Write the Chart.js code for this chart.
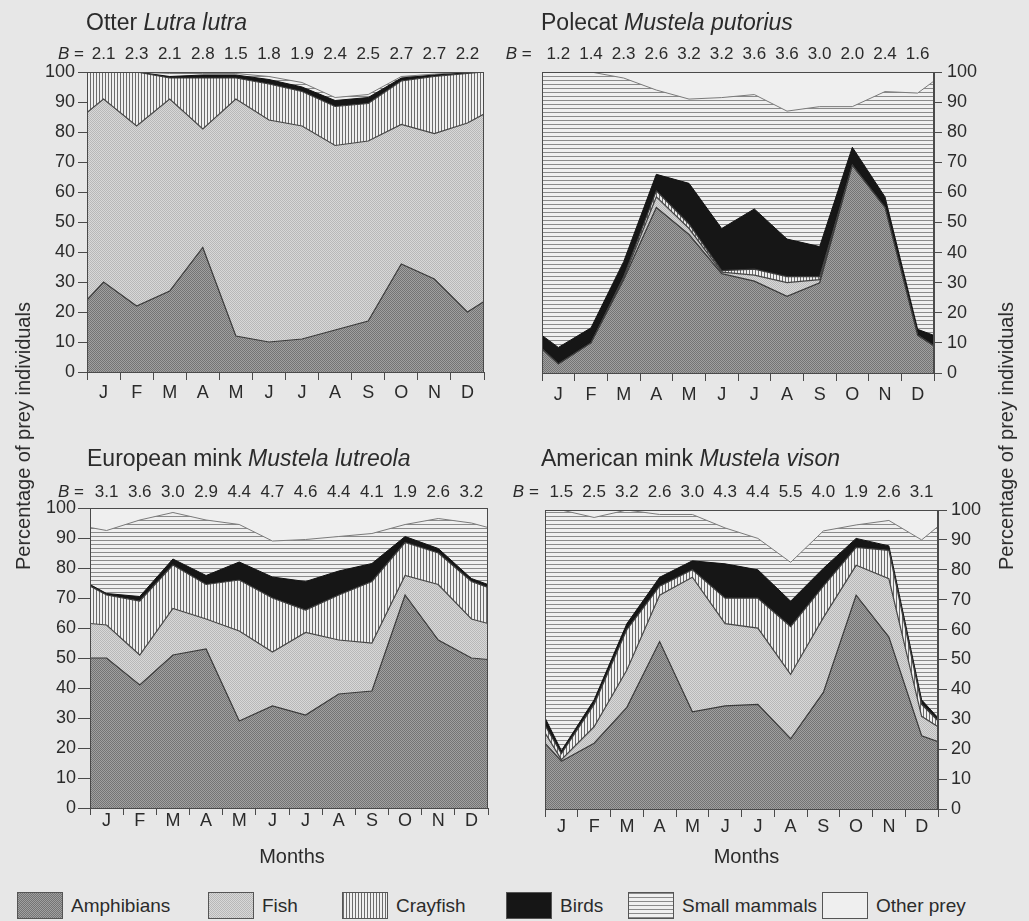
<!DOCTYPE html>
<html>
<head>
<meta charset="utf-8">
<script src="https://cdn.jsdelivr.net/npm/chart.js@4.4.1/dist/chart.umd.min.js"></script>
<style>
  html, body { margin: 0; padding: 0; }
  body {
    width: 1029px; height: 921px; position: relative; overflow: hidden;
    background: #e7e7e7; color: #2b2b2b;
    font-family: 'Liberation Sans', Arial, sans-serif;
  }
  canvas.panel { position: absolute; display: block; }
  .ytitle {
    position: absolute; font-size: 20px; line-height: 20px; white-space: nowrap;
    transform: translate(-50%, -50%) rotate(-90deg);
  }
  .leg { position: absolute; top: 893px; height: 25px; display: flex; align-items: center; }
  .leg canvas { display: block; border: 1px solid #555; box-sizing: border-box; }
  .leg span { font-size: 19px; margin-left: 8px; }
</style>
</head>
<body>
<canvas id="otter" class="panel" width="500" height="420" style="left:0;top:0"></canvas>
<canvas id="polecat" class="panel" width="529" height="420" style="left:500px;top:0"></canvas>
<canvas id="euMink" class="panel" width="500" height="460" style="left:0;top:420px"></canvas>
<canvas id="amMink" class="panel" width="529" height="460" style="left:500px;top:420px"></canvas>
<div class="ytitle" style="left:23px;top:436px">Percentage of prey individuals</div>
<div class="ytitle" style="left:1006px;top:436px">Percentage of prey individuals</div>
<div id="legend"></div>

<script>
// ---- data -------------------------------------------------------------
const months = ['J', 'F', 'M', 'A', 'M', 'J', 'J', 'A', 'S', 'O', 'N', 'D'];
const preyTypes = ['Amphibians', 'Fish', 'Crayfish', 'Birds', 'Small mammals', 'Other prey'];

// x of each point, in months: start of year, the twelve mid-months, end of year
const xPos = [0, 0.5, 1.5, 2.5, 3.5, 4.5, 5.5, 6.5, 7.5, 8.5, 9.5, 10.5, 11.5, 12];

// percentages of prey individuals (year start, Jan..Dec, year end)
const otterAmphibians   = [24, 30, 22, 27, 41.5, 12, 10, 11, 14, 17, 36, 31, 20, 23.5];
const otterFish         = [62.5, 61, 60, 64, 39.5, 79, 74, 71, 61.5, 60, 46.5, 48.5, 63, 62.5];
const otterCrayfish     = [13.5, 9, 18, 7, 17, 7, 12, 11.5, 13, 12.5, 14.5, 19, 16.5, 14];
const otterBirds        = [0, 0, 0, 0.5, 1, 1, 1.5, 1.5, 2, 2, 1, 0.5, 0.2, 0];
const otterSmallMammals = [0, 0, 0, 1, 0.5, 0.5, 1, 1.5, 1, 1, 0.5, 0.3, 0.3, 0];
const otterOther        = [0, 0, 0, 0.5, 0.5, 0.5, 1.5, 3.5, 8.5, 7.5, 1.5, 0.7, 0, 0];
const otterB = [2.1, 2.3, 2.1, 2.8, 1.5, 1.8, 1.9, 2.4, 2.5, 2.7, 2.7, 2.2];

const polecatAmphibians   = [8, 3, 10, 31, 55, 46, 33, 30.5, 25.5, 30, 69, 55, 12.5, 9];
const polecatFish         = [0, 0, 0, 0.5, 3.5, 2, 0.5, 2, 4.5, 1, 0, 0, 0, 0];
const polecatCrayfish     = [0, 0, 0, 0.5, 2, 1.5, 0.5, 2, 2, 1, 0, 0, 0, 0];
const polecatBirds        = [4.5, 5.5, 5, 5, 5.5, 13.5, 14, 20, 12.5, 10, 6, 3.5, 2, 3.5];
const polecatSmallMammals = [87.5, 91.5, 85, 61, 28, 28, 43.5, 38, 42.5, 46.5, 13.5, 35, 78.5, 84.5];
const polecatOther        = [0, 0, 0, 2, 6, 9, 8.5, 7.5, 13, 11.5, 11.5, 6.5, 7, 3];
const polecatB = [1.2, 1.4, 2.3, 2.6, 3.2, 3.2, 3.6, 3.6, 3.0, 2.0, 2.4, 1.6];

const euMinkAmphibians   = [50, 50, 41, 51, 53, 29, 34, 31, 38, 39, 71, 56, 50, 49.5];
const euMinkFish         = [11.5, 11, 10, 15.5, 10, 30, 18, 27.5, 18, 16, 6.5, 18.5, 13, 12];
const euMinkCrayfish     = [12.5, 10, 18, 14.5, 11.5, 17, 18, 7.5, 15, 20.5, 11, 10.5, 12.5, 12];
const euMinkBirds        = [0.5, 0.5, 1.5, 2, 3, 6, 7, 9.5, 8, 6, 2, 1.5, 1, 1];
const euMinkSmallMammals = [19, 21, 25.5, 15.5, 18.5, 12.5, 12, 14, 11.5, 10, 4, 10, 18.5, 19];
const euMinkOther        = [6.5, 7.5, 4, 1.5, 4, 5.5, 11, 10.5, 9.5, 8.5, 5.5, 3.5, 5, 6.5];
const euMinkB = [3.1, 3.6, 3.0, 2.9, 4.4, 4.7, 4.6, 4.4, 4.1, 1.9, 2.6, 3.2];

const amMinkAmphibians   = [22, 16, 22, 34, 56, 32.5, 34.5, 35, 23.5, 39, 71.5, 57.5, 24.5, 22.5];
const amMinkFish         = [3.5, 0.5, 5.5, 12.5, 15.5, 45, 27.5, 25.5, 21.5, 25, 10, 19.5, 6.5, 5];
const amMinkCrayfish     = [2.5, 2, 7.5, 13.5, 3, 2.5, 8.5, 10, 16, 10.5, 6, 9.5, 4, 2];
const amMinkBirds        = [2.5, 1, 1.5, 2, 3, 3, 11.5, 9.5, 8.5, 6, 3, 1.5, 1.5, 1];
const amMinkSmallMammals = [69.5, 80.5, 61, 38, 21, 15.5, 12, 10.5, 13, 12.5, 4.5, 8.5, 53.5, 64];
const amMinkOther        = [0, 0, 2.5, 0, 1.5, 1.5, 6, 9.5, 17.5, 7, 5, 3.5, 10, 5.5];
const amMinkB = [1.5, 2.5, 3.2, 2.6, 3.0, 4.3, 4.4, 5.5, 4.0, 1.9, 2.6, 3.1];

// ---- styling ----------------------------------------------------------
const FONT = "'Liberation Sans', Arial, sans-serif";
const TEXT = '#2b2b2b';
const AXIS = '#4a4a4a';

function makePattern(draw, w, h) {
  const c = document.createElement('canvas');
  c.width = w; c.height = h;
  draw(c.getContext('2d'));
  return document.createElement('canvas').getContext('2d').createPattern(c, 'repeat');
}
const stipple = (a, b) => makePattern(g => {
  g.fillStyle = a; g.fillRect(0, 0, 2, 2);
  g.fillStyle = b; g.fillRect(0, 0, 1, 1); g.fillRect(1, 1, 1, 1);
}, 2, 2);
const fills = [
  stipple('#a0a0a0', '#747474'),                       // amphibians
  stipple('#d8d8d8', '#b8b8b8'),                       // fish
  makePattern(g => { g.fillStyle = '#efefef'; g.fillRect(0, 0, 3, 1);
                     g.fillStyle = '#6c6c6c'; g.fillRect(0, 0, 1, 1); }, 3, 1),  // crayfish
  '#161616',                                           // birds
  makePattern(g => { g.fillStyle = '#efefef'; g.fillRect(0, 0, 1, 4);
                     g.fillStyle = '#8a8a8a'; g.fillRect(0, 0, 1, 1); }, 1, 4),  // small mammals
  '#efefef'                                            // other prey
];
const borderColors = ['#3a3a3a', '#454545', '#3a3a3a', '#111111', '#7a7a7a', 'rgba(0,0,0,0)'];
const borderWidths = [1.2, 1.2, 1.2, 1, 1, 0];

// tick positions on the month axis: boundaries (tick marks) and mid-months (labels)
const monthTicks = [];
for (let i = 0; i <= 24; i++) monthTicks.push(i / 2);

// ---- per-panel text: title, diet breadth row, frame, axis title ---------
const panelText = {
  id: 'panelText',
  afterDraw(chart) {
    const o = chart.options.plugins.panelText;
    const { ctx, chartArea: a } = chart;
    const xs = chart.scales.x;
    ctx.save();
    ctx.fillStyle = TEXT;
    // frame
    ctx.strokeStyle = AXIS; ctx.lineWidth = 1;
    ctx.strokeRect(Math.round(a.left) + 0.5, Math.round(a.top) + 0.5,
                   Math.round(a.right - a.left) - 1, Math.round(a.bottom - a.top));
    // title: common name + italic binomial
    ctx.textBaseline = 'alphabetic'; ctx.textAlign = 'left';
    ctx.font = `23px ${FONT}`;
    ctx.fillText(o.common, o.titleX, o.titleY);
    const w = ctx.measureText(o.common).width;
    ctx.font = `italic 23px ${FONT}`;
    ctx.fillText(o.latin, o.titleX + w, o.titleY);
    // diet breadth row
    ctx.font = `17px ${FONT}`; ctx.textBaseline = 'middle'; ctx.textAlign = 'center';
    let firstLeft = Infinity;
    o.breadth.forEach((b, i) => {
      const x = xs.getPixelForValue(i + 0.5);
      const s = b.toFixed(1);
      ctx.fillText(s, x, o.bY);
      if (i === 0) firstLeft = x - ctx.measureText(s).width / 2;
    });
    ctx.textAlign = 'right';
    const eq = ' = ';
    ctx.fillText(eq, firstLeft - o.bGap, o.bY);
    const eqW = ctx.measureText(eq).width;
    ctx.font = `italic 17px ${FONT}`;
    ctx.fillText('B', firstLeft - o.bGap - eqW, o.bY);
    // x-axis title
    if (o.xTitle) {
      ctx.font = `20px ${FONT}`; ctx.textAlign = 'center';
      ctx.fillText(o.xTitle, (a.left + a.right) / 2 + o.xTitleDx, o.xTitleY);
    }
    ctx.restore();
  }
};

function buildChart(id, series, text, lay) {
  const datasets = preyTypes.map((name, i) => ({
    label: name,
    data: series[i].map((v, j) => ({ x: xPos[j], y: v })),
    backgroundColor: fills[i],
    borderColor: borderColors[i],
    borderWidth: borderWidths[i],
    fill: i === 0 ? 'origin' : '-1',
    pointRadius: 0,
    tension: 0
  }));
  return new Chart(document.getElementById(id), {
    type: 'line',
    data: { datasets },
    options: {
      responsive: false, animation: false, devicePixelRatio: 1,
      layout: { padding: lay.pad },
      plugins: { legend: { display: false }, tooltip: { enabled: false }, panelText: text },
      scales: {
        x: {
          type: 'linear', min: 0, max: 12,
          afterBuildTicks: s => { s.ticks = monthTicks.map(v => ({ value: v })); },
          afterFit: s => { s.height = lay.xH; },
          ticks: {
            autoSkip: false, maxRotation: 0, minRotation: 0, padding: lay.xPad,
            color: TEXT, font: { family: FONT, size: 18 },
            callback: v => Number.isInteger(v) ? '' : months[Math.floor(v)]
          },
          grid: {
            drawOnChartArea: false, tickLength: lay.xTick, lineWidth: 1,
            color: c => (c.tick && Number.isInteger(c.tick.value)) ? AXIS : 'rgba(0,0,0,0)'
          },
          border: { color: AXIS }
        },
        y: {
          type: 'linear', stacked: true, position: lay.yPos, min: 0, max: 100,
          afterFit: s => { s.width = lay.yW; },
          ticks: { stepSize: 10, padding: lay.yPad, color: TEXT, font: { family: FONT, size: 18 } },
          grid: { drawOnChartArea: false, tickLength: lay.yTick, color: AXIS },
          border: { color: AXIS }
        }
      }
    },
    plugins: [panelText]
  });
}

buildChart('otter',
  [otterAmphibians, otterFish, otterCrayfish, otterBirds, otterSmallMammals, otterOther],
  { common: 'Otter ', latin: 'Lutra lutra', titleX: 86, titleY: 30, breadth: otterB, bY: 54, bGap: 3 },
  { pad: { left: 0, right: 16, top: 72, bottom: 18 }, xH: 30, yW: 87, yPos: 'left',
    xTick: 8, xPad: 2, yTick: 9, yPad: 3 });

buildChart('polecat',
  [polecatAmphibians, polecatFish, polecatCrayfish, polecatBirds, polecatSmallMammals, polecatOther],
  { common: 'Polecat ', latin: 'Mustela putorius', titleX: 41, titleY: 30, breadth: polecatB, bY: 54, bGap: 10 },
  { pad: { left: 42, right: 0, top: 72, bottom: 17 }, xH: 30, yW: 95, yPos: 'right',
    xTick: 8, xPad: 3, yTick: 8, yPad: 5 });

buildChart('euMink',
  [euMinkAmphibians, euMinkFish, euMinkCrayfish, euMinkBirds, euMinkSmallMammals, euMinkOther],
  { common: 'European mink ', latin: 'Mustela lutreola', titleX: 87, titleY: 46, breadth: euMinkB, bY: 72, bGap: 6,
    xTitle: 'Months', xTitleY: 437, xTitleDx: 3 },
  { pad: { left: 0, right: 12, top: 88, bottom: 42 }, xH: 30, yW: 90, yPos: 'left',
    xTick: 7, xPad: -5, yTick: 12, yPad: 2 });

buildChart('amMink',
  [amMinkAmphibians, amMinkFish, amMinkCrayfish, amMinkBirds, amMinkSmallMammals, amMinkOther],
  { common: 'American mink ', latin: 'Mustela vison', titleX: 41, titleY: 46, breadth: amMinkB, bY: 72, bGap: 6,
    xTitle: 'Months', xTitleY: 437, xTitleDx: 5 },
  { pad: { left: 45, right: 0, top: 90, bottom: 41 }, xH: 30, yW: 91, yPos: 'right',
    xTick: 8, xPad: -1, yTick: 9, yPad: 4 });

// ---- legend -------------------------------------------------------------
const legendLeft = [17, 208, 342, 506, 628, 822];
const legend = document.getElementById('legend');
preyTypes.forEach((name, i) => {
  const item = document.createElement('div');
  item.className = 'leg';
  item.style.left = legendLeft[i] + 'px';
  const sw = document.createElement('canvas');
  sw.width = 44; sw.height = 25;
  const g = sw.getContext('2d');
  g.fillStyle = fills[i]; g.fillRect(0, 0, 44, 25);
  const label = document.createElement('span');
  label.textContent = name;
  item.appendChild(sw); item.appendChild(label);
  legend.appendChild(item);
});
</script>
</body>
</html>
